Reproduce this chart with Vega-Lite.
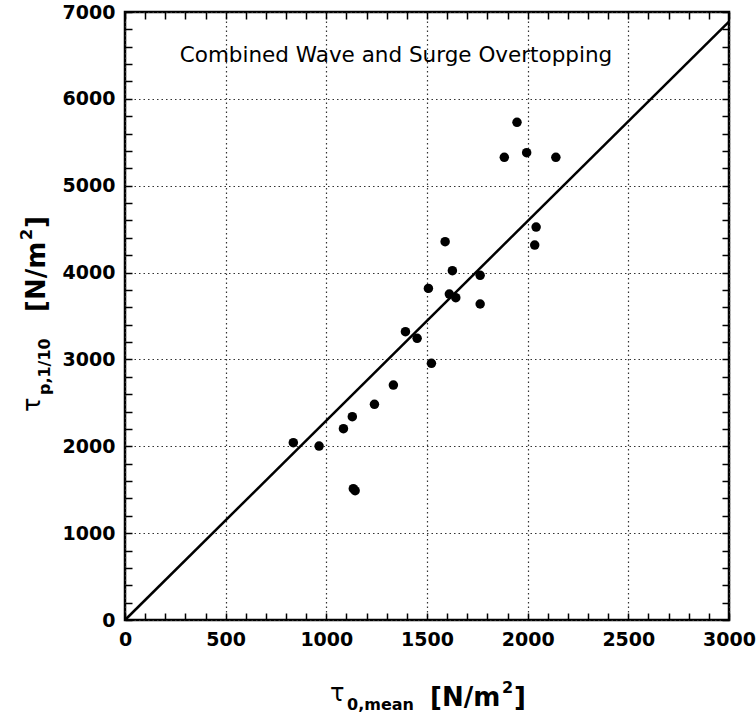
{
  "$schema": "https://vega.github.io/schema/vega-lite/v6.json",
  "width": 604,
  "height": 608,
  "autosize": {"type": "none"},
  "padding": {"left": 125, "top": 12, "right": 27, "bottom": 106},
  "background": "white",
  "config": {
    "font": "DejaVu Sans",
    "view": {"stroke": "black", "strokeWidth": 2.5}
  },
  "datasets": {
    "points": [
      {"tau0mean": 836, "taup": 2041},
      {"tau0mean": 964, "taup": 2003},
      {"tau0mean": 1085, "taup": 2203},
      {"tau0mean": 1129, "taup": 2341},
      {"tau0mean": 1239, "taup": 2483},
      {"tau0mean": 1333, "taup": 2705},
      {"tau0mean": 1134, "taup": 1512},
      {"tau0mean": 1143, "taup": 1489},
      {"tau0mean": 1393, "taup": 3320},
      {"tau0mean": 1451, "taup": 3243},
      {"tau0mean": 1522, "taup": 2955},
      {"tau0mean": 1507, "taup": 3818},
      {"tau0mean": 1611, "taup": 3753},
      {"tau0mean": 1643, "taup": 3711},
      {"tau0mean": 1626, "taup": 4022},
      {"tau0mean": 1590, "taup": 4356},
      {"tau0mean": 1764, "taup": 3968},
      {"tau0mean": 1764, "taup": 3638},
      {"tau0mean": 1947, "taup": 5730},
      {"tau0mean": 1884, "taup": 5327},
      {"tau0mean": 1995, "taup": 5380},
      {"tau0mean": 2140, "taup": 5327},
      {"tau0mean": 2042, "taup": 4524},
      {"tau0mean": 2035, "taup": 4317}
    ],
    "fit": [
      {"tau0mean": 0, "taup": 0},
      {"tau0mean": 3000, "taup": 6890}
    ],
    "one": [{}]
  },
  "resolve": {"axis": {"x": "independent", "y": "independent"}},
  "layer": [
    {
      "data": {"name": "points"},
      "mark": {"type": "circle", "size": 90, "opacity": 1, "color": "black"},
      "encoding": {
        "x": {
          "field": "tau0mean", "type": "quantitative",
          "scale": {"domain": [0, 3000], "nice": false, "zero": false},
          "axis": {
            "orient": "bottom", "title": null, "format": "d",
            "values": [0, 500, 1000, 1500, 2000, 2500, 3000],
            "grid": true, "gridDash": [1.5, 3], "gridColor": "#333", "gridWidth": 1.2,
            "ticks": false, "domain": false,
            "labelFont": "DejaVu Sans", "labelFontWeight": "bold", "labelFontSize": 19,
            "labelColor": "black", "labelPadding": 10, "labelFlush": false, "labelOverlap": false
          }
        },
        "y": {
          "field": "taup", "type": "quantitative",
          "scale": {"domain": [0, 7000], "nice": false, "zero": false},
          "axis": {
            "orient": "left", "title": null, "format": "d",
            "values": [0, 1000, 2000, 3000, 4000, 5000, 6000, 7000],
            "grid": true, "gridDash": [1.5, 3], "gridColor": "#333", "gridWidth": 1.2,
            "ticks": false, "domain": false,
            "labelFont": "DejaVu Sans", "labelFontWeight": "bold", "labelFontSize": 19,
            "labelColor": "black", "labelPadding": 10, "labelFlush": false, "labelOverlap": false
          }
        }
      }
    },
    {
      "data": {"name": "fit"},
      "mark": {"type": "line", "color": "black", "strokeWidth": 2.5},
      "encoding": {
        "x": {
          "field": "tau0mean", "type": "quantitative",
          "axis": {
            "orient": "bottom", "title": null,
            "values": [0,100,200,300,400,500,600,700,800,900,1000,1100,1200,1300,1400,1500,1600,1700,1800,1900,2000,2100,2200,2300,2400,2500,2600,2700,2800,2900,3000],
            "grid": false, "domain": false, "labels": false,
            "ticks": true, "tickSize": -7, "tickWidth": 1.5, "tickColor": "black"
          }
        },
        "y": {
          "field": "taup", "type": "quantitative",
          "axis": {
            "orient": "left", "title": null,
            "values": [0,200,400,600,800,1000,1200,1400,1600,1800,2000,2200,2400,2600,2800,3000,3200,3400,3600,3800,4000,4200,4400,4600,4800,5000,5200,5400,5600,5800,6000,6200,6400,6600,6800,7000],
            "grid": false, "domain": false, "labels": false,
            "ticks": true, "tickSize": -7, "tickWidth": 1.5, "tickColor": "black"
          }
        }
      }
    },
    {
      "data": {"name": "one"},
      "mark": {"type": "text", "text": "Combined Wave and Surge Overtopping", "font": "DejaVu Sans", "fontSize": 21.5, "align": "center", "baseline": "middle", "color": "black"},
      "encoding": {
        "x": {
          "datum": 1346, "type": "quantitative",
          "axis": {
            "orient": "top", "title": null,
            "values": [0,100,200,300,400,500,600,700,800,900,1000,1100,1200,1300,1400,1500,1600,1700,1800,1900,2000,2100,2200,2300,2400,2500,2600,2700,2800,2900,3000],
            "grid": false, "domain": false, "labels": false,
            "ticks": true, "tickSize": -7, "tickWidth": 1.5, "tickColor": "black"
          }
        },
        "y": {
          "datum": 6497, "type": "quantitative",
          "axis": {
            "orient": "right", "title": null,
            "values": [0,200,400,600,800,1000,1200,1400,1600,1800,2000,2200,2400,2600,2800,3000,3200,3400,3600,3800,4000,4200,4400,4600,4800,5000,5200,5400,5600,5800,6000,6200,6400,6600,6800,7000],
            "grid": false, "domain": false, "labels": false,
            "ticks": true, "tickSize": -7, "tickWidth": 1.5, "tickColor": "black"
          }
        }
      }
    },
    {
      "data": {"name": "one"},
      "mark": {"type": "text", "text": "τ", "font": "DejaVu Sans", "fontSize": 24, "align": "left", "baseline": "alphabetic", "color": "black"},
      "encoding": {"x": {"datum": 1018, "type": "quantitative", "axis": null}, "y": {"datum": -933, "type": "quantitative", "axis": null}}
    },
    {
      "data": {"name": "one"},
      "mark": {"type": "text", "text": "0,mean", "font": "DejaVu Sans", "fontWeight": "bold", "fontSize": 16, "align": "left", "baseline": "alphabetic", "color": "black"},
      "encoding": {"x": {"datum": 1103, "type": "quantitative", "axis": null}, "y": {"datum": -1036, "type": "quantitative", "axis": null}}
    },
    {
      "data": {"name": "one"},
      "mark": {"type": "text", "text": "[N/m", "font": "DejaVu Sans", "fontWeight": "bold", "fontSize": 26, "align": "left", "baseline": "alphabetic", "color": "black"},
      "encoding": {"x": {"datum": 1515, "type": "quantitative", "axis": null}, "y": {"datum": -990, "type": "quantitative", "axis": null}}
    },
    {
      "data": {"name": "one"},
      "mark": {"type": "text", "text": "2", "font": "DejaVu Sans", "fontWeight": "bold", "fontSize": 16, "align": "left", "baseline": "alphabetic", "color": "black"},
      "encoding": {"x": {"datum": 1872, "type": "quantitative", "axis": null}, "y": {"datum": -840, "type": "quantitative", "axis": null}}
    },
    {
      "data": {"name": "one"},
      "mark": {"type": "text", "text": "]", "font": "DejaVu Sans", "fontWeight": "bold", "fontSize": 26, "align": "left", "baseline": "alphabetic", "color": "black"},
      "encoding": {"x": {"datum": 1932, "type": "quantitative", "axis": null}, "y": {"datum": -990, "type": "quantitative", "axis": null}}
    },
    {
      "data": {"name": "one"},
      "mark": {"type": "text", "text": "τ", "font": "DejaVu Sans", "fontSize": 24, "align": "left", "baseline": "alphabetic", "angle": 270, "color": "black"},
      "encoding": {"x": {"datum": -422, "type": "quantitative", "axis": null}, "y": {"datum": 2395, "type": "quantitative", "axis": null}}
    },
    {
      "data": {"name": "one"},
      "mark": {"type": "text", "text": "p,1/10", "font": "DejaVu Sans", "fontWeight": "bold", "fontSize": 16, "align": "left", "baseline": "alphabetic", "angle": 270, "color": "black"},
      "encoding": {"x": {"datum": -373, "type": "quantitative", "axis": null}, "y": {"datum": 2590, "type": "quantitative", "axis": null}}
    },
    {
      "data": {"name": "one"},
      "mark": {"type": "text", "text": "[N/m", "font": "DejaVu Sans", "fontWeight": "bold", "fontSize": 26, "align": "left", "baseline": "alphabetic", "angle": 270, "color": "black"},
      "encoding": {"x": {"datum": -397, "type": "quantitative", "axis": null}, "y": {"datum": 3546, "type": "quantitative", "axis": null}}
    },
    {
      "data": {"name": "one"},
      "mark": {"type": "text", "text": "2", "font": "DejaVu Sans", "fontWeight": "bold", "fontSize": 16, "align": "left", "baseline": "alphabetic", "angle": 270, "color": "black"},
      "encoding": {"x": {"datum": -462, "type": "quantitative", "axis": null}, "y": {"datum": 4375, "type": "quantitative", "axis": null}}
    },
    {
      "data": {"name": "one"},
      "mark": {"type": "text", "text": "]", "font": "DejaVu Sans", "fontWeight": "bold", "fontSize": 26, "align": "left", "baseline": "alphabetic", "angle": 270, "color": "black"},
      "encoding": {"x": {"datum": -397, "type": "quantitative", "axis": null}, "y": {"datum": 4513, "type": "quantitative", "axis": null}}
    }
  ]
}
